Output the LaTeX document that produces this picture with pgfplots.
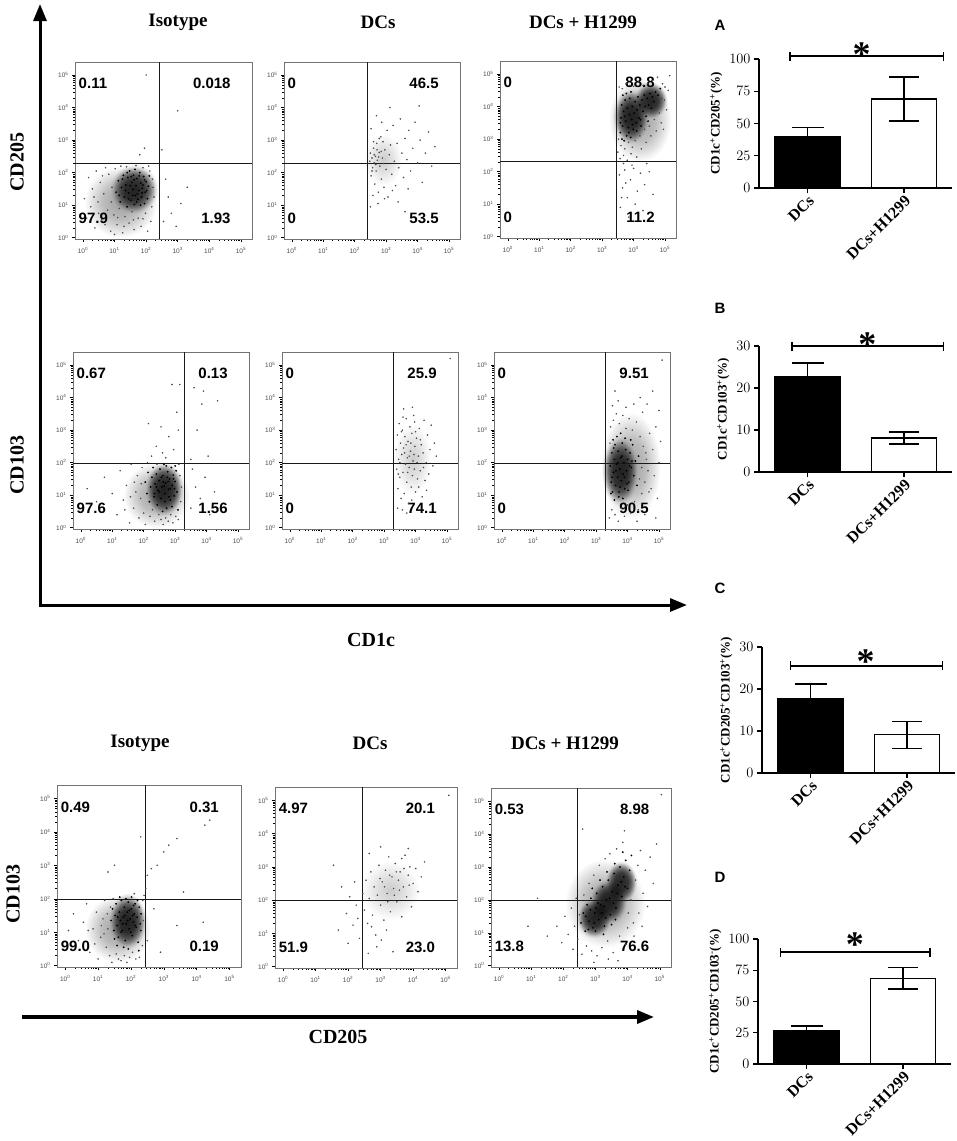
\documentclass[border=0pt]{standalone}
\usepackage{fontspec}
\setmainfont{Liberation Serif}
\setsansfont{Liberation Sans}
\usepackage{pgfplots}
\pgfplotsset{compat=1.18}
\usetikzlibrary{arrows.meta}
\pgfdeclareradialshading{dense}{\pgfpoint{0bp}{0bp}}{color(0bp)=(black!82); color(8bp)=(black!75); color(12bp)=(black!56); color(15bp)=(black!30); color(17bp)=(black!10); color(19bp)=(white); color(50bp)=(white)}
\pgfdeclareradialshading{haloc}{\pgfpoint{0bp}{0bp}}{color(0bp)=(black!38); color(9bp)=(black!26); color(15bp)=(black!9); color(18bp)=(white); color(50bp)=(white)}
\pgfdeclareradialshading{sparse}{\pgfpoint{0bp}{0bp}}{color(0bp)=(black!20); color(7.5bp)=(black!13); color(14bp)=(black!5); color(18bp)=(white); color(50bp)=(white)}
\newcommand{\tl}[1]{10\textsuperscript{#1}}
\pgfplotsset{
  flow/.style={
    scale only axis, width=176pt, height=177pt,
    xmin=-0.25, xmax=5.35, ymin=-0.04, ymax=5.4,
    xtick={0,1,2,3,4,5}, ytick={0,1,2,3,4,5},
    xticklabels={\tl{0},\tl{1},\tl{2},\tl{3},\tl{4},\tl{5}},
    yticklabels={\tl{0},\tl{1},\tl{2},\tl{3},\tl{4},\tl{5}},
    minor xtick={0.30,0.48,0.60,0.70,0.78,0.85,0.90,0.95,1.30,1.48,1.60,1.70,1.78,1.85,1.90,1.95,2.30,2.48,2.60,2.70,2.78,2.85,2.90,2.95,3.30,3.48,3.60,3.70,3.78,3.85,3.90,3.95,4.30,4.48,4.60,4.70,4.78,4.85,4.90,4.95},
    minor ytick={0.30,0.48,0.60,0.70,0.78,0.85,0.90,0.95,1.30,1.48,1.60,1.70,1.78,1.85,1.90,1.95,2.30,2.48,2.60,2.70,2.78,2.85,2.90,2.95,3.30,3.48,3.60,3.70,3.78,3.85,3.90,3.95,4.30,4.48,4.60,4.70,4.78,4.85,4.90,4.95},
    tick align=outside, major tick length=3pt, minor tick length=1.6pt,
    xtick pos=bottom, ytick pos=left,
    tick style={black, line width=0.5pt},
    axis line style={black!55, line width=0.6pt},
    tick label style={font=\sffamily\fontsize{6.5}{7}\selectfont, text=black!70},
    xticklabel style={yshift=-2pt},
  },
  halo/.style={only marks, mark=*, mark size=0.55pt, color=black!70, mark options={draw=none}},
  core/.style={only marks, mark=*, mark size=0.7pt, color=black, mark options={draw=none}},
  gate/.style={no marks, color=black!90, line width=0.9pt},
  barax/.style={
    scale only axis, width=193pt,
    xmin=-0.503, xmax=1.497, ymin=0,
    axis lines*=left, axis line style={line width=1.4pt, black},
    xtick={0,1}, xticklabels={DCs,DCs+H1299},
    x tick label style={rotate=45, anchor=north east, font=\bfseries\fontsize{16}{16}\selectfont, inner sep=1pt},
    y tick label style={font=\bfseries\fontsize{15}{15}\selectfont},
    tick style={line width=1.4pt, black}, tick align=outside, major tick length=5pt,
    ylabel style={font=\bfseries\fontsize{13}{13}\selectfont},
    clip=false,
  },
  blackbar/.style={ybar, bar width=65pt, fill=black, draw=black, line width=1.4pt,
    error bars/.cd, y dir=plus, y explicit,
    error bar style={line width=1.4pt, black},
    error mark options={rotate=90, mark size=16pt, line width=1.4pt, black}},
  whitebar/.style={ybar, bar width=65pt, fill=white, draw=black, line width=1.4pt,
    error bars/.cd, y dir=both, y explicit,
    error bar style={line width=1.4pt, black},
    error mark options={rotate=90, mark size=15pt, line width=1.4pt, black}},
}
\tikzset{
  qn/.style={font=\sffamily\bfseries\fontsize{15}{15}\selectfont, inner sep=0pt},
  ttl/.style={font=\bfseries\fontsize{19}{19}\selectfont},
  axl/.style={font=\bfseries\fontsize{20}{20}\selectfont},
  plet/.style={font=\sffamily\bfseries\fontsize{15}{15}\selectfont},
}
\newcommand{\quads}[4]{%
  \node[qn, anchor=west] at (rel axis cs:0.02,0.88) {#1};
  \node[qn, anchor=east] at (rel axis cs:0.88,0.88) {#2};
  \node[qn, anchor=west] at (rel axis cs:0.02,0.115) {#3};
  \node[qn, anchor=east] at (rel axis cs:0.88,0.115) {#4};}
\newcommand{\gates}[2]{%
  \addplot[gate] coordinates {(#1,-0.04) (#1,5.4)};
  \addplot[gate] coordinates {(-0.25,#2) (5.35,#2)};}
% density cloud: shading, x1 x2 y1 y2 (a soft ellipse fitted to this box)
\newcommand{\cloud}[5]{%
  \addplot[draw=none, shading=#1, blend mode=multiply] coordinates {(#2,#4) (#3,#4) (#3,#5) (#2,#5)} -- cycle;}
\newcommand{\sig}[5]{%
  \draw[line width=1.4pt] (axis cs:#1,#3) -- (axis cs:#2,#3);
  \draw[line width=1.4pt] ([yshift=-4.5pt]axis cs:#1,#3) -- ([yshift=4.5pt]axis cs:#1,#3);
  \draw[line width=1.4pt] ([yshift=-4.5pt]axis cs:#2,#3) -- ([yshift=4.5pt]axis cs:#2,#3);
  \node[font=\bfseries\fontsize{36}{36}\selectfont, inner sep=0pt, yshift=-7pt] at (axis cs:#4,#5) {*};}
\begin{document}
\begin{tikzpicture}
\path[use as bounding box] (0pt,0pt) rectangle (957pt,-1141pt);
% big arrows and labels
\draw[line width=3pt, -{Triangle[length=17pt,width=13pt]}] (40pt,-605pt) -- (40pt,-4pt);
\draw[line width=3pt, -{Triangle[length=17pt,width=13pt]}] (38.5pt,-605pt) -- (687pt,-605pt);
\draw[line width=3.5pt, -{Triangle[length=17pt,width=13pt]}] (22pt,-1017pt) -- (654pt,-1017pt);
\node[axl, rotate=90] at (17pt,-162pt) {CD205};
\node[axl, rotate=90] at (17pt,-465pt) {CD103};
\node[axl] at (371pt,-640pt) {CD1c};
\node[axl, rotate=90] at (13pt,-894pt) {CD103};
\node[axl] at (338pt,-1037pt) {CD205};
\node[ttl] at (178pt,-22pt) {Isotype};
\node[ttl] at (378pt,-22pt) {DCs};
\node[ttl] at (583pt,-22pt) {DCs + H1299};
\node[ttl] at (140pt,-743pt) {Isotype};
\node[ttl] at (370pt,-743pt) {DCs};
\node[ttl] at (565pt,-743pt) {DCs + H1299};
\node[plet] at (720pt,-25pt) {A};
\node[plet] at (720pt,-308pt) {B};
\node[plet] at (720pt,-588pt) {C};
\node[plet] at (720pt,-877pt) {D};

% ---------------- Row 1 : CD1c vs CD205 ----------------
\begin{axis}[flow, width=177pt, at={(75pt,-239pt)}, anchor=south west]
\cloud{haloc}{-0.4}{2.8}{-0.43}{2.63}
\cloud{dense}{0.62}{2.62}{0.5}{2.5}
\addplot[halo] coordinates {(0.05,1.20) (0.12,0.60) (0.18,1.85) (0.25,0.95) (0.30,1.50) (0.38,0.30) (0.42,2.05) (0.48,1.10) (0.55,1.70) (0.60,0.55) (0.66,1.35) (0.72,2.15) (0.78,0.85) (0.82,1.95) (0.88,0.20) (0.92,1.55) (0.98,0.70) (1.02,2.12) (1.08,0.40) (1.15,0.90) (1.20,2.20) (1.26,0.15) (1.33,0.65) (1.38,2.18) (1.46,0.45) (1.55,0.80) (1.62,0.25) (1.68,2.22) (1.75,0.60) (1.84,0.35) (1.90,2.15) (1.98,0.75) (2.05,0.20) (2.12,2.05) (2.18,0.95) (2.22,1.55) (2.25,1.25) (2.15,0.50) (2.08,2.20) (0.50,0.75) (0.70,0.40) (1.00,0.10) (1.30,0.35) (1.60,0.55) (1.90,0.58) (2.20,1.80) (0.35,1.25) (0.62,1.90) (0.90,1.10) (1.10,0.62) (2.55,0.50) (2.70,1.25) (2.62,1.80) (2.95,0.35) (3.10,1.05) (2.80,0.75) (3.30,1.55) (2.50,2.70) (1.95,2.75) (3.00,3.90) (2.00,5.00) (1.80,2.55)};
\addplot[core] coordinates {(1.05,1.40) (1.12,1.75) (1.18,1.10) (1.22,1.55) (1.28,1.92) (1.31,1.25) (1.36,1.62) (1.40,0.95) (1.42,1.85) (1.45,1.38) (1.48,2.05) (1.52,1.15) (1.55,1.70) (1.58,1.48) (1.60,1.92) (1.63,1.02) (1.66,1.30) (1.68,1.60) (1.71,1.82) (1.74,1.18) (1.77,1.45) (1.80,2.00) (1.83,1.68) (1.86,1.25) (1.88,1.52) (1.92,1.88) (1.95,1.05) (1.97,1.40) (2.00,1.72) (2.04,1.20) (2.07,1.58) (2.10,1.90) (1.35,1.45) (1.50,1.60) (1.62,1.78) (1.72,1.35) (1.90,1.62) (1.44,1.20) (1.58,1.30) (1.78,1.90) (1.25,1.80) (1.65,2.10) (1.82,1.00) (2.02,1.45) (1.15,1.30) (1.40,2.00) (1.70,1.10) (1.95,1.78) (1.53,1.88) (1.87,1.38)};
\gates{2.41}{2.29}
\quads{0.11}{0.018}{97.9}{1.93}
\end{axis}

\begin{axis}[flow, at={(284pt,-239pt)}, anchor=south west]
\cloud{sparse}{2.07}{3.73}{1.29}{3.51}
\addplot[halo] coordinates {(2.48,2.35) (2.50,2.60) (2.52,1.90) (2.55,2.45) (2.57,2.15) (2.60,2.75) (2.62,2.30) (2.64,1.65) (2.66,2.50) (2.68,2.05) (2.70,2.90) (2.72,2.38) (2.75,1.40) (2.78,2.62) (2.80,2.20) (2.83,3.10) (2.85,1.80) (2.88,2.45) (2.90,2.95) (2.93,1.55) (2.96,2.70) (3.00,2.10) (3.03,3.30) (3.06,1.25) (3.10,2.55) (3.14,2.85) (3.18,1.95) (3.22,3.45) (3.26,2.35) (3.30,1.60) (3.35,2.90) (3.40,2.15) (3.45,3.65) (3.50,2.60) (3.55,1.85) (3.60,3.05) (3.66,2.40) (3.72,3.30) (3.78,2.05) (3.85,2.75) (3.92,3.55) (4.00,2.30) (4.08,3.00) (4.15,1.70) (4.25,2.60) (4.35,3.25) (4.45,2.20) (4.55,2.80) (2.58,1.30) (2.74,1.05) (2.95,1.20) (3.20,1.45) (2.52,3.35) (2.69,3.75) (2.86,3.55) (3.12,4.00) (2.60,2.95) (2.78,3.05) (3.38,1.10) (3.70,1.50) (2.55,2.05) (2.62,2.55) (2.67,2.25) (2.71,2.70) (2.76,2.48) (2.84,2.65) (2.92,2.28) (4.05,4.05) (3.60,0.80) (2.50,0.95)};
\gates{2.41}{2.29}
\quads{0}{46.5}{0}{53.5}
\end{axis}

\begin{axis}[flow, at={(500pt,-238pt)}, anchor=south west]
\cloud{haloc}{2.81}{5.59}{1.79}{5.41}
\cloud{dense}{3.15}{4.65}{2.6}{4.8}
\cloud{dense}{3.85}{5.25}{3.45}{4.95}
\addplot[halo] coordinates {(3.50,2.60) (3.52,3.00) (3.54,4.60) (3.57,2.40) (3.60,2.80) (3.64,4.55) (3.68,2.50) (3.72,2.70) (3.76,4.70) (3.80,2.35) (3.84,2.90) (3.88,4.65) (3.92,2.55) (3.96,2.75) (4.00,4.62) (4.05,2.95) (4.10,2.45) (4.15,4.75) (4.20,3.10) (4.25,2.70) (4.30,4.65) (4.35,3.30) (4.40,2.90) (4.45,4.70) (4.50,3.40) (4.55,3.10) (4.60,4.80) (4.66,3.60) (4.72,3.25) (4.76,4.90) (4.82,3.80) (4.88,3.50) (4.92,4.70) (4.98,4.20) (5.05,3.90) (5.10,4.50) (5.15,4.95) (4.90,4.25) (5.00,4.60) (4.95,3.30) (3.55,1.90) (3.65,1.50) (3.72,2.05) (3.80,1.20) (3.90,1.75) (4.00,2.10) (4.12,1.40) (4.22,1.95) (4.35,1.60) (4.50,2.00) (4.62,1.30) (3.58,0.90) (3.85,0.60) (4.05,1.00) (4.30,0.80) (3.68,2.25) (3.95,2.20) (4.42,2.25) (3.62,1.20) (3.75,1.65)};
\addplot[core] coordinates {(3.58,3.20) (3.60,3.65) (3.62,4.05) (3.65,3.40) (3.68,3.85) (3.70,2.95) (3.73,4.20) (3.75,3.55) (3.78,3.10) (3.80,3.95) (3.83,3.35) (3.86,3.75) (3.88,4.25) (3.91,3.05) (3.94,3.60) (3.96,4.00) (3.99,3.30) (4.02,3.80) (4.05,4.15) (4.08,3.50) (4.11,3.90) (4.14,4.30) (4.17,3.65) (4.20,4.05) (4.24,3.40) (4.27,4.20) (4.30,3.85) (4.34,4.35) (4.37,4.00) (4.40,3.70) (4.44,4.25) (4.48,4.05) (4.52,4.40) (4.56,3.95) (4.60,4.30) (4.65,4.15) (4.70,4.45) (4.78,4.35) (4.85,4.55) (3.63,3.00) (3.72,3.70) (3.85,3.20) (3.97,3.45) (4.10,3.25) (3.66,4.35) (3.77,4.40) (3.92,4.45) (4.22,3.60) (4.46,3.55) (3.58,3.50)};
\gates{3.45}{2.31}
\quads{0}{88.8}{0}{11.2}
\end{axis}

% ---------------- Row 2 : CD1c vs CD103 ----------------
\begin{axis}[flow, at={(73pt,-529pt)}, anchor=south west]
\cloud{haloc}{0.94}{3.86}{-0.39}{2.39}
\cloud{dense}{1.85}{3.45}{0.1}{2.3}
\addplot[halo] coordinates {(0.20,1.20) (0.50,0.80) (0.75,1.55) (1.00,1.05) (1.15,0.40) (1.25,1.75) (1.35,0.85) (1.45,1.30) (1.55,0.15) (1.60,1.95) (1.68,0.60) (1.75,1.10) (1.80,1.60) (1.85,0.30) (1.90,0.90) (1.95,1.85) (2.00,0.45) (2.05,0.10) (2.12,2.00) (2.20,0.35) (2.28,0.55) (2.35,0.20) (2.42,1.95) (2.48,0.40) (2.55,0.25) (2.62,0.10) (2.70,0.30) (2.78,0.20) (2.86,0.40) (2.93,0.15) (3.02,0.35) (3.10,0.25) (3.15,1.60) (3.18,0.80) (3.20,1.25) (3.12,1.95) (1.70,1.40) (1.58,0.95) (1.92,1.35) (1.40,0.55) (2.25,2.20) (2.40,2.50) (2.60,2.30) (2.80,2.80) (2.95,2.40) (3.10,3.00) (2.55,3.10) (2.15,3.20) (3.05,3.55) (2.90,4.40) (3.15,4.40) (2.70,2.15) (3.50,0.60) (3.65,1.25) (3.80,0.90) (3.95,1.55) (4.10,0.40) (4.25,1.10) (3.55,1.80) (3.70,3.00) (3.85,3.80) (3.90,4.20) (4.35,3.90) (3.60,4.30) (4.05,2.20) (3.50,2.10)};
\addplot[core] coordinates {(2.05,1.40) (2.10,1.05) (2.14,1.70) (2.18,0.80) (2.22,1.25) (2.26,1.55) (2.30,1.85) (2.33,0.95) (2.36,1.35) (2.40,1.65) (2.43,0.70) (2.46,1.15) (2.49,1.45) (2.52,1.80) (2.55,0.90) (2.58,1.25) (2.61,1.60) (2.64,1.95) (2.67,1.05) (2.70,1.38) (2.73,0.60) (2.76,1.72) (2.79,1.18) (2.82,1.50) (2.85,0.85) (2.88,1.85) (2.91,1.30) (2.94,1.62) (2.97,0.98) (3.00,1.42) (3.03,1.75) (3.06,1.10) (3.09,0.55) (2.50,1.10) (2.62,1.40) (2.75,1.55) (2.85,1.20) (2.95,1.50) (2.68,0.80) (2.80,0.95) (2.56,1.55) (2.90,0.65) (3.00,1.90) (2.40,1.25) (2.72,1.90) (2.65,1.28) (2.78,1.42) (2.98,1.20) (2.34,1.05) (2.60,0.50)};
\gates{3.31}{1.96}
\quads{0.67}{0.13}{97.6}{1.56}
\end{axis}

\begin{axis}[flow, at={(282pt,-529pt)}, anchor=south west]
\cloud{sparse}{3.07}{4.73}{0.57}{3.63}
\addplot[halo] coordinates {(3.38,2.40) (3.40,1.80) (3.42,2.85) (3.44,1.20) (3.46,2.10) (3.48,3.20) (3.50,1.55) (3.52,2.60) (3.54,0.90) (3.56,2.25) (3.58,3.00) (3.60,1.70) (3.62,2.45) (3.64,1.05) (3.66,2.80) (3.68,1.95) (3.70,3.35) (3.72,1.40) (3.74,2.15) (3.76,2.65) (3.78,0.75) (3.80,1.85) (3.82,3.10) (3.84,2.35) (3.86,1.25) (3.88,2.90) (3.90,1.60) (3.92,2.05) (3.94,3.45) (3.96,1.80) (3.98,2.50) (4.00,1.10) (4.03,2.75) (4.06,1.50) (4.09,2.20) (4.12,3.05) (4.15,1.75) (4.18,2.55) (4.21,0.95) (4.24,2.30) (4.27,3.30) (4.30,1.45) (4.34,2.00) (4.38,2.85) (4.42,1.65) (4.46,2.40) (4.50,3.15) (4.55,1.90) (4.60,2.60) (4.66,2.20) (3.45,1.65) (3.55,2.95) (3.65,2.30) (3.75,1.70) (3.85,2.60) (3.95,2.25) (4.05,2.00) (4.15,2.70) (4.25,1.85) (3.50,2.00) (3.60,3.40) (3.70,2.55) (3.80,2.20) (3.90,3.70) (4.00,2.95) (4.10,1.25) (3.43,0.60) (3.58,0.55) (3.72,0.45) (5.10,5.20) (3.88,0.85) (4.35,1.15) (3.62,3.65) (3.97,3.25)};
\gates{3.31}{1.96}
\quads{0}{25.9}{0}{74.1}
\end{axis}

\begin{axis}[flow, at={(494pt,-529pt)}, anchor=south west]
\cloud{haloc}{2.78}{5.42}{-0.39}{4.19}
\cloud{dense}{3.0}{4.5}{0.35}{3.15}
\addplot[halo] coordinates {(3.42,0.30) (3.46,3.10) (3.50,0.55) (3.55,3.30) (3.60,0.40) (3.64,3.50) (3.70,0.20) (3.74,3.20) (3.80,0.60) (3.85,3.45) (3.90,0.35) (3.95,3.05) (4.00,0.70) (4.05,3.35) (4.10,0.45) (4.15,3.00) (4.22,0.80) (4.28,3.25) (4.34,0.55) (4.40,2.80) (4.45,1.05) (4.50,2.50) (4.55,1.40) (4.60,2.10) (4.65,1.75) (4.70,2.90) (4.75,1.20) (4.80,2.40) (4.85,1.60) (4.90,3.10) (4.95,0.90) (5.00,2.00) (5.05,2.65) (4.48,3.55) (4.62,3.80) (4.40,4.00) (4.20,3.80) (3.95,3.70) (3.70,3.90) (5.00,3.60) (4.80,4.20) (3.60,4.20) (3.52,3.75) (4.30,0.20) (4.55,0.40) (4.45,1.85) (4.58,2.30) (4.38,1.50) (4.68,1.10) (3.44,2.60) (5.10,5.15) (4.90,0.30)};
\addplot[core] coordinates {(3.45,1.90) (3.48,1.40) (3.50,2.30) (3.52,1.10) (3.55,1.70) (3.58,2.10) (3.60,2.55) (3.62,1.30) (3.65,1.95) (3.68,1.55) (3.70,2.35) (3.72,0.95) (3.75,1.80) (3.78,2.15) (3.80,1.45) (3.83,2.60) (3.86,1.65) (3.88,2.00) (3.91,1.20) (3.94,2.40) (3.97,1.75) (4.00,2.10) (4.04,1.40) (4.08,2.30) (4.12,1.85) (4.16,2.55) (4.20,1.60) (4.25,2.05) (4.30,1.30) (4.35,2.20) (3.50,1.55) (3.56,2.45) (3.63,1.75) (3.69,2.00) (3.76,1.25) (3.82,2.20) (3.90,1.55) (3.98,1.35) (4.06,1.90) (4.14,2.05) (3.54,2.70) (3.66,2.80) (3.78,2.90) (3.92,2.75) (4.10,2.70) (3.47,1.05) (3.58,0.85) (3.73,1.10) (3.85,0.90) (4.02,1.15)};
\gates{3.31}{1.96}
\quads{0}{9.51}{0}{90.5}
\end{axis}

% ---------------- Row 3 : CD205 vs CD103 ----------------
\begin{axis}[flow, width=184pt, height=182pt, at={(57pt,-967pt)}, anchor=south west]
\cloud{haloc}{0.21}{2.99}{-0.29}{2.49}
\cloud{dense}{1.15}{2.65}{0.25}{2.45}
\addplot[halo] coordinates {(0.10,1.05) (0.25,1.55) (0.40,0.75) (0.55,1.30) (0.65,1.85) (0.75,0.40) (0.85,1.10) (0.95,1.60) (1.00,0.20) (1.08,0.85) (1.15,1.40) (1.20,1.95) (1.25,0.55) (1.30,1.10) (1.35,0.30) (1.38,1.75) (1.42,0.10) (1.46,2.00) (1.55,0.35) (1.62,0.20) (1.70,0.15) (1.80,0.30) (1.88,0.10) (1.96,0.25) (2.05,0.40) (2.15,0.20) (2.26,0.25) (2.35,0.60) (2.38,1.35) (2.36,1.95) (1.10,1.20) (0.90,0.65) (1.28,1.55) (1.18,0.95) (0.70,1.05) (2.45,2.30) (2.50,2.70) (2.62,2.90) (2.80,3.00) (3.00,3.40) (3.15,3.60) (3.40,3.80) (4.25,4.20) (4.40,4.35) (1.30,2.80) (1.50,3.00) (2.30,3.85) (2.10,2.15) (2.40,2.10) (2.90,0.40) (3.40,1.20) (4.20,1.30) (3.60,2.20) (2.70,1.70) (2.50,0.75)};
\addplot[core] coordinates {(1.40,1.35) (1.44,1.70) (1.48,1.05) (1.52,1.50) (1.55,1.85) (1.58,1.20) (1.62,0.85) (1.65,1.60) (1.68,1.35) (1.71,1.95) (1.74,1.05) (1.77,1.45) (1.80,1.75) (1.83,0.75) (1.86,1.25) (1.89,1.60) (1.92,1.90) (1.95,1.10) (1.98,1.40) (2.01,1.70) (2.04,0.90) (2.07,1.30) (2.10,1.55) (2.13,1.85) (2.16,1.15) (2.19,1.45) (2.22,0.70) (2.25,1.75) (2.28,1.25) (2.31,1.55) (1.60,1.45) (1.75,1.25) (1.90,1.35) (2.05,1.50) (2.20,1.95) (1.85,2.00) (1.70,1.00) (2.00,1.00) (2.12,1.20) (1.95,1.65) (1.50,0.80) (1.66,2.05) (2.30,1.05) (1.82,1.50) (2.08,1.80) (1.78,0.55) (1.92,0.50) (2.24,0.45) (1.58,0.60) (2.02,2.05)};
\gates{2.43}{1.99}
\quads{0.49}{0.31}{99.0}{0.19}
\end{axis}

\begin{axis}[flow, width=182pt, height=181pt, at={(275pt,-968pt)}, anchor=south west]
\cloud{sparse}{2.05}{4.55}{1.05}{3.55}
\addplot[halo] coordinates {(2.45,2.20) (2.50,1.70) (2.55,2.60) (2.60,1.30) (2.65,2.05) (2.70,2.85) (2.75,1.55) (2.80,2.40) (2.85,0.95) (2.90,2.15) (2.95,3.05) (3.00,1.85) (3.05,2.55) (3.10,1.40) (3.15,2.90) (3.20,2.20) (3.25,3.30) (3.30,1.65) (3.35,2.70) (3.40,2.35) (3.45,3.10) (3.50,1.95) (3.55,2.60) (3.60,2.85) (3.65,1.50) (3.70,2.40) (3.75,3.35) (3.80,2.10) (3.85,2.75) (3.90,3.00) (3.95,1.80) (4.00,2.50) (4.08,2.95) (4.15,2.25) (4.25,2.70) (4.35,3.15) (3.12,2.40) (3.28,2.75) (3.42,2.15) (3.58,2.30) (3.72,2.95) (3.88,2.45) (2.98,2.65) (3.22,1.95) (3.48,2.85) (2.72,1.20) (2.88,0.60) (3.02,0.80) (3.18,1.10) (3.38,0.45) (2.62,0.40) (1.80,2.40) (1.95,1.60) (2.05,2.10) (2.15,1.25) (2.25,1.85) (2.35,0.85) (2.20,2.55) (1.70,1.10) (2.00,0.70) (2.30,1.45) (1.55,3.05) (2.65,3.40) (3.00,3.60) (5.10,5.15) (3.65,3.25) (3.85,3.55)};
\gates{2.43}{1.99}
\quads{4.97}{20.1}{51.9}{23.0}
\end{axis}

\begin{axis}[flow, width=180pt, height=179pt, at={(491pt,-967pt)}, anchor=south west]
\cloud{haloc}{1.56}{5.04}{0.02}{3.78}
\cloud{dense}{2.25}{3.65}{0.65}{2.25}
\cloud{dense}{2.65}{4.15}{1.05}{2.85}
\cloud{dense}{3.15}{4.45}{1.7}{3.4}
\addplot[halo] coordinates {(1.80,1.20) (1.95,0.70) (2.05,1.50) (2.15,0.95) (2.25,1.75) (2.30,0.50) (2.35,1.20) (2.40,2.05) (2.45,0.80) (2.50,1.55) (2.58,0.35) (2.64,2.15) (2.72,0.60) (2.80,2.50) (2.88,0.45) (2.95,2.75) (3.05,0.30) (3.12,3.05) (3.20,0.55) (3.30,3.25) (3.38,0.75) (3.45,3.40) (3.55,0.40) (3.66,3.55) (3.75,0.90) (3.85,3.75) (3.95,0.65) (4.02,1.60) (4.10,2.00) (4.18,1.30) (4.25,2.60) (4.32,3.05) (4.40,3.50) (4.48,2.20) (4.55,2.90) (4.62,1.80) (4.70,3.30) (4.80,2.50) (4.90,3.70) (4.20,0.90) (4.35,1.60) (1.50,0.90) (0.90,1.20) (2.60,4.15) (3.90,4.10) (5.05,5.20) (1.20,2.05) (4.00,1.15) (4.45,1.20) (3.40,0.20) (2.95,0.10) (3.70,0.15)};
\addplot[core] coordinates {(2.55,1.30) (2.62,1.60) (2.68,1.05) (2.74,1.85) (2.80,1.35) (2.86,2.05) (2.92,1.15) (2.98,1.60) (3.04,2.20) (3.10,1.40) (3.16,1.85) (3.22,2.40) (3.28,1.20) (3.34,2.00) (3.40,2.60) (3.46,1.55) (3.52,2.25) (3.58,2.80) (3.64,1.75) (3.70,2.45) (3.76,3.00) (3.82,2.10) (3.88,2.70) (3.94,3.20) (4.00,2.35) (4.06,2.90) (4.12,3.35) (2.70,1.50) (2.84,1.70) (2.96,1.30) (3.08,1.90) (3.20,1.60) (3.32,1.45) (3.44,2.05) (3.56,1.90) (3.68,2.20) (3.80,2.55) (3.92,2.40) (3.00,1.05) (3.25,0.95) (3.50,1.25) (3.62,1.40) (2.90,2.35) (3.14,2.60) (3.36,2.85) (3.60,3.10) (3.85,3.45) (2.78,1.10) (3.02,1.75) (3.26,1.80)};
\gates{2.43}{1.99}
\quads{0.53}{8.98}{13.8}{76.6}
\end{axis}

% ---------------- Bar charts ----------------
\begin{axis}[barax, height=129pt, ymax=100, ytick={0,25,50,75,100},
  at={(759pt,-188pt)}, anchor=south west,
  ylabel={CD1c\textsuperscript{+}CD205\textsuperscript{+}(\%)}]
\addplot[blackbar] coordinates {(0,40) +- (0,7)};
\addplot[whitebar] coordinates {(1,69) +- (0,17)};
\sig{-0.18}{1.41}{102.3}{0.56}{109}
\end{axis}

\begin{axis}[barax, height=126pt, ymax=30, ytick={0,10,20,30},
  at={(759pt,-472pt)}, anchor=south west,
  ylabel={CD1c\textsuperscript{+}CD103\textsuperscript{+}(\%)}]
\addplot[blackbar] coordinates {(0,22.6) +- (0,3.4)};
\addplot[whitebar] coordinates {(1,8.1) +- (0,1.4)};
\sig{-0.16}{1.41}{30}{0.62}{32.1}
\end{axis}

\begin{axis}[barax, height=126pt, ymax=30, ytick={0,10,20,30},
  at={(762pt,-773pt)}, anchor=south west,
  ylabel={CD1c\textsuperscript{+}CD205\textsuperscript{+}CD103\textsuperscript{+}(\%)}]
\addplot[blackbar] coordinates {(0,17.8) +- (0,3.4)};
\addplot[whitebar] coordinates {(1,9.1) +- (0,3.2)};
\sig{-0.21}{1.37}{25.5}{0.57}{28.1}
\end{axis}

\begin{axis}[barax, height=125pt, ymax=100, ytick={0,25,50,75,100},
  at={(758pt,-1064pt)}, anchor=south west,
  ylabel={CD1c\textsuperscript{+}CD205\textsuperscript{+}CD103\textsuperscript{-}(\%)}]
\addplot[blackbar] coordinates {(0,26.3) +- (0,4)};
\addplot[whitebar] coordinates {(1,68.5) +- (0,8.5)};
\sig{-0.27}{1.28}{89.6}{0.50}{100.8}
\end{axis}
\end{tikzpicture}
\end{document}
